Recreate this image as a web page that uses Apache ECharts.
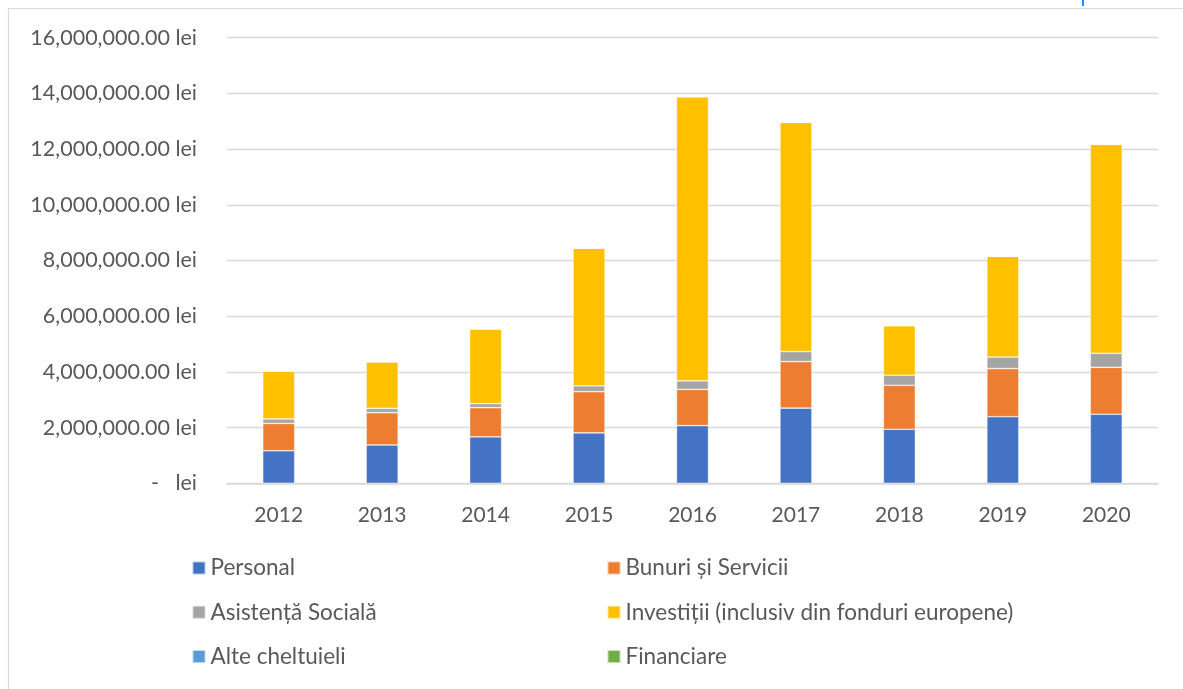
<!DOCTYPE html>
<html>
<head>
<meta charset="utf-8">
<script src="https://cdn.jsdelivr.net/npm/echarts@6/dist/echarts.min.js"></script>
<style>
  html, body { margin: 0; padding: 0; background: #fff; }
  #chart { width: 1183px; height: 689px; }
</style>
</head>
<body>
<div id="chart"></div>
<script>
// Budget expenses by year (lei), stacked by chapter
const years = ['2012', '2013', '2014', '2015', '2016', '2017', '2018', '2019', '2020'];
const personal   = [1170000, 1375000, 1670000, 1810000, 2070000, 2700000, 1940000, 2390000, 2480000];
const bunuri     = [ 980000, 1160000, 1045000, 1480000, 1305000, 1670000, 1580000, 1730000, 1685000];
const asistenta  = [ 160000,  155000,  145000,  210000,  305000,  360000,  360000,  415000,  505000];
const investitii = [1720000, 1670000, 2680000, 4940000,10200000, 8230000, 1780000, 3615000, 7500000];
const alte       = [0, 0, 0, 0, 0, 0, 0, 0, 0];
const financiare = [0, 0, 0, 0, 0, 0, 0, 0, 0];

const seriesNames = [
  'Personal',
  'Bunuri și Servicii',
  'Asistență Socială',
  'Investiții (inclusiv din fonduri europene)',
  'Alte cheltuieli',
  'Financiare'
];
const seriesData = [personal, bunuri, asistenta, investitii, alte, financiare];
const colors = ['#4472c4', '#ed7d31', '#a5a5a5', '#ffc000', '#5b9bd5', '#70ad47'];

const FONT = 'Lato';
const TEXT = '#595959';

function leiLabel(v) {
  if (v === 0) return '-   lei';
  return v.toLocaleString('en-US', { minimumFractionDigits: 2, maximumFractionDigits: 2 }) + ' lei';
}

const legendText = { color: TEXT, fontFamily: FONT, fontSize: 22.5, lineHeight: 24 };

const chart = echarts.init(document.getElementById('chart'), null, { renderer: 'canvas' });
chart.setOption({
  animation: false,
  backgroundColor: '#fff',
  color: colors,
  grid: { left: 227, right: 25, top: 37.7, bottom: 205.7, containLabel: false },
  xAxis: {
    type: 'category',
    data: years,
    axisTick: { show: false },
    axisLine: { lineStyle: { color: '#d9d9d9', width: 1.5 } },
    axisLabel: { color: TEXT, fontFamily: FONT, fontSize: 21, margin: 21 }
  },
  yAxis: {
    type: 'value',
    min: 0,
    max: 16000000,
    interval: 2000000,
    axisLine: { show: false },
    axisTick: { show: false },
    splitLine: { lineStyle: { color: '#d9d9d9', width: 1.3 } },
    axisLabel: { color: TEXT, fontFamily: FONT, fontSize: 21.5, margin: 30, formatter: leiLabel }
  },
  legend: [
    {
      orient: 'vertical', left: 191.5, top: 556, padding: 0,
      itemWidth: 13, itemHeight: 13, itemGap: 20.3,
      icon: 'rect', textStyle: legendText,
      data: [seriesNames[0], seriesNames[2], seriesNames[4]]
    },
    {
      orient: 'vertical', left: 606.5, top: 556, padding: 0,
      itemWidth: 13, itemHeight: 13, itemGap: 20.3,
      icon: 'rect', textStyle: legendText,
      data: [seriesNames[1], seriesNames[3], seriesNames[5]]
    }
  ],
  graphic: [
    {
      type: 'rect', silent: true,
      shape: { x: 8.5, y: 8.5, width: 1400, height: 900 },
      style: { fill: 'none', stroke: '#d9d9d9', lineWidth: 1.2 }
    },
    {
      type: 'line', silent: true,
      shape: { x1: 1083, y1: 0, x2: 1083, y2: 6 },
      style: { stroke: '#1f8fff', lineWidth: 2 }
    }
  ],
  series: seriesNames.map((name, i) => ({
    name: name,
    type: 'bar',
    stack: 'total',
    barWidth: 32,
    data: seriesData[i],
    itemStyle: { color: colors[i], borderColor: 'rgba(255,255,255,0.6)', borderWidth: 0.7 }
  }))
});
</script>
</body>
</html>
